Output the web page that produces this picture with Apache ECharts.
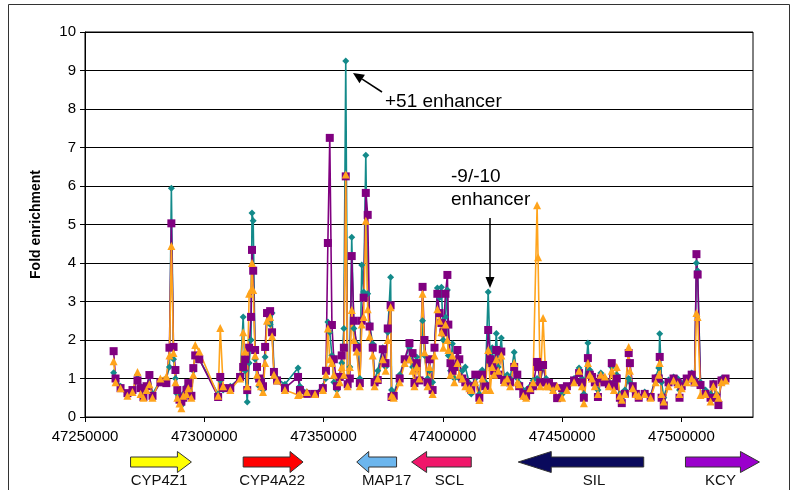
<!DOCTYPE html>
<html>
<head>
<meta charset="utf-8">
<script src="https://cdn.jsdelivr.net/npm/echarts@6/dist/echarts.min.js"></script>
<style>
  html, body { margin: 0; padding: 0; background: #fff; }
  #chart { width: 792px; height: 490px; }
</style>
</head>
<body>
<div id="chart"></div>
<script>
// probe positions (bp) shared by the three series
const positions = [
  47262000, 47262800, 47264900, 47267800, 47269900, 47272000, 47273300, 47274500, 47275800, 47277000,
  47278300, 47281600, 47284100, 47285400, 47286200, 47287100, 47287900, 47288700, 47289600, 47290400,
  47291200, 47292500, 47293300, 47294600, 47295400, 47296200, 47297900, 47305800, 47306700, 47307900,
  47310900, 47315000, 47316300, 47317100, 47318000, 47318800, 47319600, 47320000, 47320500, 47321300,
  47322100, 47323000, 47323800, 47324600, 47325500, 47326300, 47327600, 47328400, 47329200, 47330500,
  47333800, 47339300, 47340100, 47343000, 47346400, 47349700, 47351000, 47351800, 47352600, 47353500,
  47354300, 47355600, 47356800, 47357600, 47358500, 47359300, 47360100, 47361000, 47361800, 47362700,
  47363900, 47365200, 47366000, 47366800, 47367700, 47368500, 47369300, 47370600, 47371400, 47372700,
  47374800, 47376000, 47376900, 47378100, 47378500, 47379400, 47381900, 47384000, 47386000, 47387300,
  47388100, 47389000, 47390200, 47391500, 47392300, 47393600, 47394400, 47395700, 47396500, 47397700,
  47398600, 47399400, 47400200, 47401100, 47401900, 47402300, 47403200, 47404000, 47404800, 47406100,
  47406900, 47408200, 47409400, 47411100, 47411900, 47413600, 47415300, 47416500, 47417800, 47419000,
  47419900, 47420700, 47421500, 47422400, 47423200, 47424500, 47425700, 47427000, 47428200, 47429900,
  47431200, 47432000, 47433700, 47434900, 47436600, 47437800, 47439500, 47439900, 47440800, 47442000,
  47443300, 47444500, 47446200, 47447900, 47450000, 47452000, 47455000, 47457100, 47458300, 47459100,
  47460800, 47461600, 47462500, 47463700, 47465000, 47466200, 47467900, 47469600, 47470800, 47471700,
  47472900, 47474200, 47475000, 47476300, 47477900, 47478400, 47479600, 47480900, 47482100, 47484600,
  47487100, 47489200, 47490500, 47490900, 47491700, 47492600, 47494600, 47496700, 47498400, 47499200,
  47500100, 47502200, 47504300, 47505500, 47506300, 47506800, 47508000, 47510100, 47512200, 47513400,
  47514700, 47515500, 47516800, 47518500
]

const tealValues = [
  1.15, 1.0, 0.8, 0.6, 0.65, 1.1, 0.8, 0.55, 0.75, 1.05,
  0.6, 0.95, 1.0, 1.3, 5.94, 1.5, 1.0, 0.6, 0.5, 0.3,
  0.6, 0.8, 0.9, 0.6, 1.2, 1.6, 1.5, 0.6, 0.95, 0.7,
  0.8, 1.0, 2.6, 1.2, 0.39, 1.4, 2.0, 5.3, 5.1, 1.5,
  1.0, 0.8, 1.0, 0.7, 1.56, 2.7, 2.4, 2.7, 1.2, 1.0,
  0.85, 1.27, 0.8, 0.65, 0.62, 0.8, 1.0, 2.47, 2.2, 1.6,
  0.9, 0.7, 1.0, 1.4, 2.3, 9.25, 0.9, 1.3, 4.67, 2.3,
  1.9, 1.0, 3.95, 3.25, 6.8, 3.2, 2.4, 1.9, 0.96, 1.2,
  1.8, 1.3, 2.2, 3.63, 0.7, 0.6, 1.1, 1.5, 1.8, 1.3,
  0.9, 1.56, 1.0, 2.5, 1.6, 1.0, 1.2, 0.9, 1.8, 3.35,
  3.1, 3.37, 2.0, 2.6, 3.3, 1.6, 1.2, 1.9, 1.0, 1.74,
  1.0, 1.2, 1.3, 0.88, 0.6, 1.0, 0.6, 1.22, 0.9, 3.25,
  1.4, 1.8, 1.2, 2.17, 1.3, 2.05, 1.0, 1.1, 1.0, 1.68,
  1.0, 0.88, 0.7, 0.7, 0.8, 0.95, 1.0, 0.96, 0.9, 1.3,
  1.0, 0.9, 0.7, 0.5, 0.6, 0.8, 1.0, 1.27, 1.0, 0.6,
  1.92, 1.22, 1.04, 0.9, 0.7, 1.14, 1.0, 0.9, 1.3, 0.9,
  1.1, 0.6, 0.5, 0.7, 1.0, 0.9, 0.7, 0.55, 0.5, 0.65,
  0.55, 1.04, 1.27, 2.16, 0.9, 0.5, 0.96, 1.04, 1.0, 0.7,
  0.88, 0.95, 1.14, 1.0, 4.0, 3.8, 0.9, 0.7, 0.6, 0.88,
  0.6, 0.4, 1.0, 1.0
]

const purpleValues = [
  1.71, 1.0, 0.75, 0.62, 0.7, 0.95, 0.75, 0.52, 0.8, 1.09,
  0.55, 0.9, 0.88, 1.8, 5.03, 1.82, 1.22, 0.7, 0.45, 0.4,
  0.5, 0.7, 0.88, 0.55, 1.27, 1.6, 1.5, 0.52, 1.04, 0.75,
  0.75, 1.04, 1.3, 1.5, 0.7, 1.8, 2.6, 4.34, 3.8, 1.74,
  1.3, 1.0, 0.9, 0.8, 1.82, 2.7, 2.75, 2.2, 1.17, 0.95,
  0.75, 1.04, 0.7, 0.6, 0.6, 0.75, 1.2, 4.52, 7.25, 2.39,
  1.5, 0.8, 1.04, 1.6, 1.8, 6.25, 0.85, 1.0, 4.18, 2.5,
  1.8, 0.88, 2.5, 3.1, 5.82, 5.25, 2.35, 1.8, 0.9, 0.96,
  1.76, 1.4, 2.3, 2.9, 0.52, 0.55, 1.0, 1.5, 1.92, 1.66,
  0.88, 1.4, 0.95, 3.38, 2.0, 0.9, 1.5, 0.7, 1.8, 3.2,
  2.7, 2.44, 2.2, 3.2, 3.69, 2.4, 1.4, 1.2, 1.3, 1.74,
  1.5, 1.0, 0.9, 0.8, 0.7, 1.1, 0.5, 1.1, 0.8, 2.26,
  1.5, 1.4, 1.2, 1.74, 1.1, 1.7, 0.96, 0.96, 0.9, 1.3,
  1.1, 0.8, 0.6, 0.55, 0.7, 0.8, 1.43, 1.3, 0.9, 1.35,
  0.9, 0.88, 0.8, 0.49, 0.75, 0.8, 0.95, 1.14, 0.9, 0.5,
  1.53, 1.1, 1.04, 0.9, 0.52, 1.0, 0.9, 0.85, 1.4, 0.8,
  1.0, 0.5, 0.36, 0.6, 1.66, 1.4, 0.8, 0.6, 0.5, 0.6,
  0.52, 1.0, 1.0, 1.56, 0.5, 0.3, 0.9, 1.0, 0.9, 0.5,
  0.8, 1.0, 1.1, 0.9, 4.23, 3.7, 0.83, 0.6, 0.5, 0.85,
  0.5, 0.31, 0.95, 1.0
]

const orangeValues = [
  1.45, 0.9, 0.75, 0.55, 0.65, 1.17, 0.6, 0.5, 0.7, 0.85,
  0.5, 1.0, 1.05, 1.6, 4.44, 1.66, 0.9, 0.5, 0.35, 0.23,
  0.55, 0.6, 0.75, 0.5, 1.1, 1.87, 1.7, 0.55, 2.31, 0.8,
  0.7, 1.0, 2.2, 1.7, 0.8, 3.2, 3.3, 4.0, 3.3, 1.6,
  1.1, 0.9, 0.8, 0.65, 1.4, 2.5, 2.6, 2.1, 1.1, 0.95,
  0.7, 0.57, 0.6, 0.65, 0.6, 0.7, 1.1, 2.3, 1.5, 1.4,
  1.1, 0.6, 0.9, 1.3, 1.1, 6.3, 0.8, 1.3, 2.78, 2.0,
  1.7, 0.8, 2.4, 2.6, 5.1, 2.8, 2.1, 1.6, 0.8, 1.0,
  1.5, 1.2, 2.0, 2.85, 0.55, 0.5, 0.9, 1.4, 1.5, 1.2,
  0.8, 1.3, 1.0, 3.2, 1.68, 0.8, 1.3, 0.6, 1.6, 2.8,
  2.5, 2.2, 1.8, 2.4, 2.0, 1.74, 1.1, 1.6, 0.9, 1.4,
  1.1, 1.0, 0.8, 0.75, 0.7, 0.9, 0.44, 1.0, 0.7, 1.74,
  0.7, 1.3, 1.1, 1.5, 1.2, 1.6, 0.9, 1.0, 0.8, 1.4,
  0.9, 0.85, 0.55, 0.5, 0.75, 0.9, 5.5, 4.15, 0.8, 2.57,
  0.8, 0.8, 0.7, 0.8, 0.5, 0.7, 0.9, 1.2, 0.8, 0.36,
  1.4, 1.1, 1.0, 0.8, 0.6, 1.1, 1.05, 0.8, 1.2, 0.7,
  1.3, 0.55, 0.45, 0.6, 1.82, 1.2, 0.75, 0.6, 0.55, 0.6,
  0.5, 0.9, 1.1, 1.4, 0.6, 0.4, 0.8, 0.95, 0.85, 0.6,
  0.75, 0.9, 1.0, 0.9, 2.7, 2.6, 0.57, 0.6, 0.4, 0.8,
  0.6, 0.5, 0.9, 0.95
]

// axis ticks
const xTicks = [47250000, 47300000, 47350000, 47400000, 47450000, 47500000]
const yTicks = [0, 1, 2, 3, 4, 5, 6, 7, 8, 9, 10]

// genes drawn under the axis
const geneNames = ['CYP4Z1', 'CYP4A22', 'MAP17', 'SCL', 'SIL', 'KCY']
const geneStarts = [47269100, 47316300, 47363900, 47386900, 47431600, 47501700]
const geneEnds = [47294600, 47341400, 47380600, 47411900, 47484200, 47532700]
const geneForward = [true, true, false, false, false, true]
const geneColors = ['#FFFF00', '#FF0000', '#6CB6EE', '#F0166A', '#0A0A5C', '#9A00CC']
const geneHeadLen = [14, 13, 12, 15, 33, 19]
const geneLabelShift = [-2, -1, 10, 8, 13, -2]

const chart = echarts.init(document.getElementById('chart'))

const pairs = vals => positions.map((p, i) => [p, vals[i]])

const lineSeries = (name, vals, color, symbol, size) => ({
  name: name,
  type: 'line',
  data: pairs(vals),
  symbol: symbol,
  symbolSize: size,
  showAllSymbol: true,
  lineStyle: { color: color, width: 1.6 },
  itemStyle: { color: color, borderWidth: 0 },
  emphasis: { disabled: true }
})

const option = {
  animation: false,
  grid: {
    left: 85, right: 39, top: 32, bottom: 73,
    show: true, borderColor: '#000', borderWidth: 1
  },
  xAxis: {
    type: 'value',
    min: 47250000,
    max: 47530000,
    interval: 50000,
    axisLine: { lineStyle: { color: '#000', width: 1 } },
    axisTick: { inside: false, length: 5, lineStyle: { color: '#000' }, customValues: xTicks },
    axisLabel: {
      customValues: xTicks,
      color: '#000', fontFamily: 'Liberation Sans, Arial, sans-serif', fontSize: 15, margin: 12,
      formatter: v => String(v)
    },
    splitLine: { show: false }
  },
  yAxis: {
    type: 'value',
    min: 0,
    max: 10,
    interval: 1,
    name: 'Fold enrichment',
    nameLocation: 'middle',
    nameGap: 42,
    nameTextStyle: { color: '#000', fontWeight: 'bold', fontSize: 14, fontFamily: 'Liberation Sans, Arial, sans-serif' },
    axisLine: { show: true, lineStyle: { color: '#000', width: 1 } },
    axisTick: { show: true, length: 5, lineStyle: { color: '#000' }, customValues: yTicks },
    axisLabel: { customValues: yTicks, color: '#000', fontSize: 15, fontFamily: 'Liberation Sans, Arial, sans-serif', margin: 9 },
    splitLine: { show: true, lineStyle: { color: '#000', width: 1 } }
  },
  series: [
    lineSeries('Series 1', tealValues, '#138A8A', 'diamond', 7),
    lineSeries('Series 2', purpleValues, '#800080', 'rect', 8),
    lineSeries('Series 3', orangeValues, '#FFA41C', 'triangle', 8)
  ]
}

chart.setOption(option)

// arrow helper for the annotations
const arrowShapes = (x1, y1, x2, y2, headLen, halfW) => {
  const dx = x2 - x1, dy = y2 - y1
  const len = Math.sqrt(dx * dx + dy * dy)
  const ux = dx / len, uy = dy / len
  const bx = x2 - ux * headLen, by = y2 - uy * headLen
  return [
    { type: 'line', shape: { x1: x1, y1: y1, x2: bx, y2: by }, style: { stroke: '#000', lineWidth: 1.5 } },
    {
      type: 'polygon',
      shape: { points: [[x2, y2], [bx - uy * halfW, by + ux * halfW], [bx + uy * halfW, by - ux * halfW]] },
      style: { fill: '#000' }
    }
  ]
}

const textFont = 'Liberation Sans, Arial, sans-serif'
const graphics = [
  { type: 'rect', shape: { x: 8.5, y: 4.5, width: 781, height: 500 }, style: { fill: 'none', stroke: '#333', lineWidth: 1 }, z: -1 },
  { type: 'text', x: 385, y: 102, style: { text: '+51 enhancer', font: '19px ' + textFont, fill: '#000', textVerticalAlign: 'middle' } },
  { type: 'text', x: 451, y: 177, style: { text: '-9/-10', font: '19px ' + textFont, fill: '#000', textVerticalAlign: 'middle' } },
  { type: 'text', x: 451, y: 200, style: { text: 'enhancer', font: '19px ' + textFont, fill: '#000', textVerticalAlign: 'middle' } }
]
  .concat(arrowShapes(382, 92, 353, 73, 11, 5))
  .concat(arrowShapes(490, 218, 490, 288, 11, 4.5))

// gene arrows, placed through the x axis scale
const yc = 462
geneNames.forEach((g, i) => {
  const x0 = chart.convertToPixel({ xAxisIndex: 0 }, geneStarts[i])
  const x1 = chart.convertToPixel({ xAxisIndex: 0 }, geneEnds[i])
  const h = geneHeadLen[i]
  let pts
  if (geneForward[i]) {
    const hx = x1 - h
    pts = [[x0, yc - 5], [hx, yc - 5], [hx, yc - 10.5], [x1, yc], [hx, yc + 10.5], [hx, yc + 5], [x0, yc + 5]]
  } else {
    const hx = x0 + h
    pts = [[x1, yc - 5], [hx, yc - 5], [hx, yc - 10.5], [x0, yc], [hx, yc + 10.5], [hx, yc + 5], [x1, yc + 5]]
  }
  graphics.push({ type: 'polygon', shape: { points: pts }, style: { fill: geneColors[i], stroke: '#333', lineWidth: 1 } })
  graphics.push({
    type: 'text',
    x: (x0 + x1) / 2 + geneLabelShift[i],
    y: 481,
    style: { text: g, font: '15px ' + textFont, fill: '#111', textAlign: 'center', textVerticalAlign: 'middle' }
  })
})

chart.setOption({ graphic: graphics })
</script>
</body>
</html>
